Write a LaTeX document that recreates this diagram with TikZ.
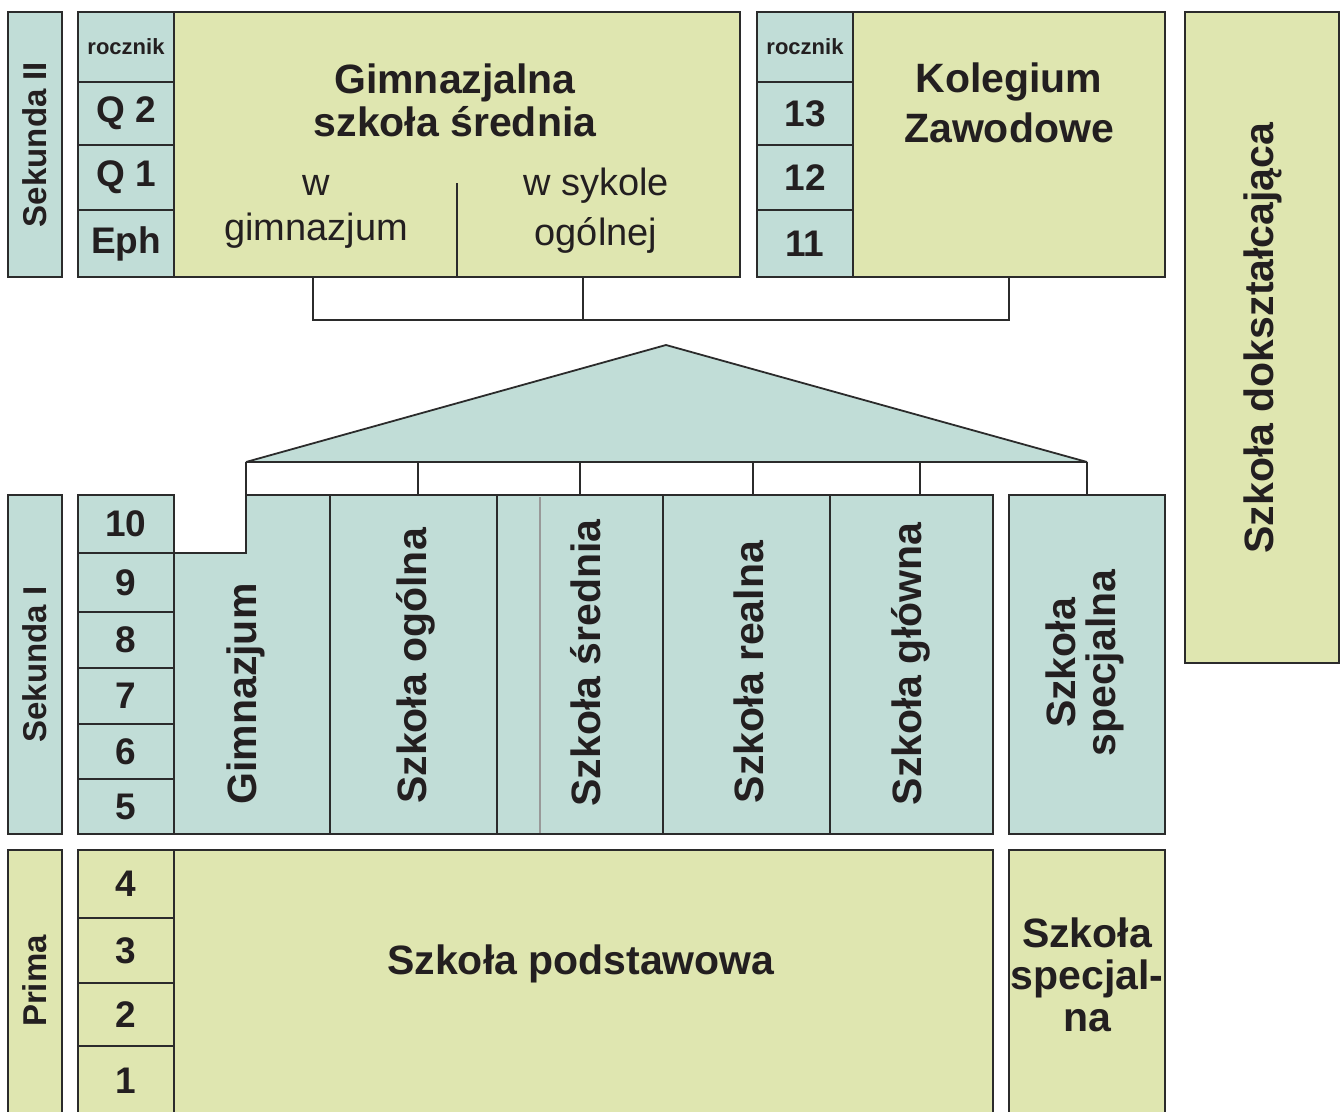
\documentclass[tikz,border=0pt]{standalone}
\usepackage{fontspec}
\setmainfont{Liberation Sans}
\definecolor{gf}{HTML}{DFE6B0}
\definecolor{tf}{HTML}{C1DDD7}
\definecolor{lc}{HTML}{2B2B2B}
\definecolor{tc}{HTML}{231F20}
\tikzset{
  bx/.style={draw=lc, line width=1.8pt, inner sep=0pt, outer sep=0pt, anchor=north west, text=tc},
  gb/.style={bx, fill=gf},
  tb/.style={bx, fill=tf},
  lbl/.style={text=tc, inner sep=0pt, align=center},
  big/.style={font=\fontsize{41}{43}\selectfont\bfseries},
  num/.style={font=\fontsize{37}{40}\selectfont\bfseries},
  small/.style={font=\fontsize{22}{24}\selectfont\bfseries},
  side/.style={font=\fontsize{33}{36}\selectfont\bfseries},
  reg/.style={font=\fontsize{38}{45}\selectfont},
  conn/.style={draw=lc, line width=1.8pt},
}
\begin{document}
\begin{tikzpicture}[x=1pt,y=-1pt]
\useasboundingbox (0,0) rectangle (1341,1111);
\clip (0,0) rectangle (1341,1111);
\fill[white] (0,0) rectangle (1341,1111);

% ---------- top row ----------
\node[tb, minimum width=54, minimum height=265] (sek2) at (8,12) {};
\node[lbl, side, rotate=90] (sek2t) at (sek2.center) {Sekunda II};

\node[tb, small, minimum width=96, minimum height=70] (ra) at (78,12) {rocznik};
\node[tb, num, minimum width=96, minimum height=63] (q2) at (78,82) {Q 2};
\node[tb, num, minimum width=96, minimum height=65] (q1) at (78,145) {Q 1};
\node[tb, num, minimum width=96, minimum height=67] (eph) at (78,210) {Eph};

\node[gb, minimum width=566, minimum height=265] (gs) at (174,12) {};
\node[lbl, big] (gst) at (455,100) {Gimnazjalna\\szkoła średnia};
\coordinate (gsdiv) at (457,183);
\draw[conn] (gsdiv) -- (gsdiv |- gs.south);
\node[lbl, reg] (gsl) at (316,212) {w\\gimnazjum};
\node[lbl, reg, font=\fontsize{38}{50}\selectfont] (gsr) at (596,211) {w sykole\\ogólnej};

\node[tb, small, minimum width=96, minimum height=70] (rb) at (757,12) {rocznik};
\node[tb, num, minimum width=96, minimum height=63] (y13) at (757,82) {13};
\node[tb, num, minimum width=96, minimum height=65] (y12) at (757,145) {12};
\node[tb, num, minimum width=96, minimum height=67] (y11) at (757,210) {11};

\node[gb, minimum width=312, minimum height=265] (kz) at (853,12) {};
\node[lbl, font=\fontsize{41}{50}\selectfont\bfseries] (kzt) at (1009,103) {Kolegium\\Zawodowe};

\node[gb, minimum width=154, minimum height=651] (dok) at (1185,12) {};
\node[lbl, font=\fontsize{41}{44}\selectfont\bfseries, rotate=90] (dokt) at (1263,338) {Szkoła dokształcająca};

% ---------- connectors top ----------
\coordinate (ca) at (313,277);
\coordinate (cb) at (583,277);
\coordinate (jn) at (313,320);
\draw[conn] (ca) -- (jn) -- (jn -| kz.south) -- (kz.south);
\draw[conn] (cb) -- (cb |- jn);

% ---------- roof ----------
\coordinate (rl) at (246,462);
\coordinate (rt) at (666,345);
\coordinate (rr) at (1087,462);
\filldraw[fill=tf, draw=lc, line width=1.8pt, line join=bevel] (rl) -- (rt) -- (rr) -- cycle;
\draw[conn, line width=2.2pt] (rl) -- (rr);

% ---------- Sekunda I ----------
\node[tb, minimum width=54, minimum height=339] (sek1) at (8,495) {};
\node[lbl, side, rotate=90] (sek1t) at (sek1.center) {Sekunda I};

\node[tb, num, minimum width=96, minimum height=58] (g10) at (78,495) {10};
\node[tb, num, minimum width=96, minimum height=59] (g9) at (78,553) {9};
\node[tb, num, minimum width=96, minimum height=56] (g8) at (78,612) {8};
\node[tb, num, minimum width=96, minimum height=56] (g7) at (78,668) {7};
\node[tb, num, minimum width=96, minimum height=55] (g6) at (78,724) {6};
\node[tb, num, minimum width=96, minimum height=55] (g5) at (78,779) {5};

\node[tb, minimum width=167, minimum height=339] (og) at (330,495) {};
\node[tb, minimum width=166, minimum height=339] (sr) at (497,495) {};
\draw[draw=gray!80, line width=1.2pt] (540,497) -- (540,833);
\node[tb, minimum width=167, minimum height=339] (re) at (663,495) {};
\node[tb, minimum width=163, minimum height=339] (gl) at (830,495) {};
\node[tb, minimum width=156, minimum height=339] (sp) at (1009,495) {};

\filldraw[fill=tf, draw=lc, line width=1.8pt, line join=miter]
  (174,553) -- (246,553) -- (246,495) -- (330,495) -- (330,834) -- (174,834) -- cycle;
\coordinate (gm) at (246,495);
\draw[conn] (rl) -- (gm);
\draw[conn] (rl -| 418,0) -- (og.north -| 418,0);
\draw[conn] (rl -| sr.north) -- (sr.north);
\draw[conn] (rl -| 753,0) -- (re.north -| 753,0);
\draw[conn] (rl -| 920,0) -- (gl.north -| 920,0);
\draw[conn] (rr) -- (sp.north);

\node[lbl, big, rotate=90] (gmt) at (246,694) {Gimnazjum};
\node[lbl, big, rotate=90] (ogt) at (416,666) {Szkoła ogólna};
\node[lbl, big, rotate=90] (srt) at (586,663) {Szkoła średnia};
\node[lbl, big, rotate=90] (ret) at (749,672) {Szkoła realna};
\node[lbl, big, rotate=90] (glt) at (911,664) {Szkoła główna};
\node[lbl, font=\fontsize{41}{40}\selectfont\bfseries, rotate=90] (spt) at (1085,663) {Szkoła\\specjalna};

% ---------- Prima ----------
\node[gb, minimum width=54, minimum height=265] (pr) at (8,850) {};
\node[lbl, side, rotate=90] (prt) at (35,981) {Prima};

\node[gb, num, minimum width=96, minimum height=68] (g4) at (78,850) {4};
\node[gb, num, minimum width=96, minimum height=65] (g3) at (78,918) {3};
\node[gb, num, minimum width=96, minimum height=63] (g2) at (78,983) {2};
\node[gb, num, minimum width=96, minimum height=69] (g1) at (78,1046) {1};

\node[gb, minimum width=819, minimum height=265] (pod) at (174,850) {};
\node[lbl, big, anchor=base] (podt) at (581,974) {Szkoła podstawowa};

\node[gb, minimum width=156, minimum height=265] (sp2) at (1009,850) {};
\node[lbl, font=\fontsize{41}{42}\selectfont\bfseries] (sp2t) at (1087,975) {Szkoła\\specjal-\\na};
\end{tikzpicture}
\end{document}
